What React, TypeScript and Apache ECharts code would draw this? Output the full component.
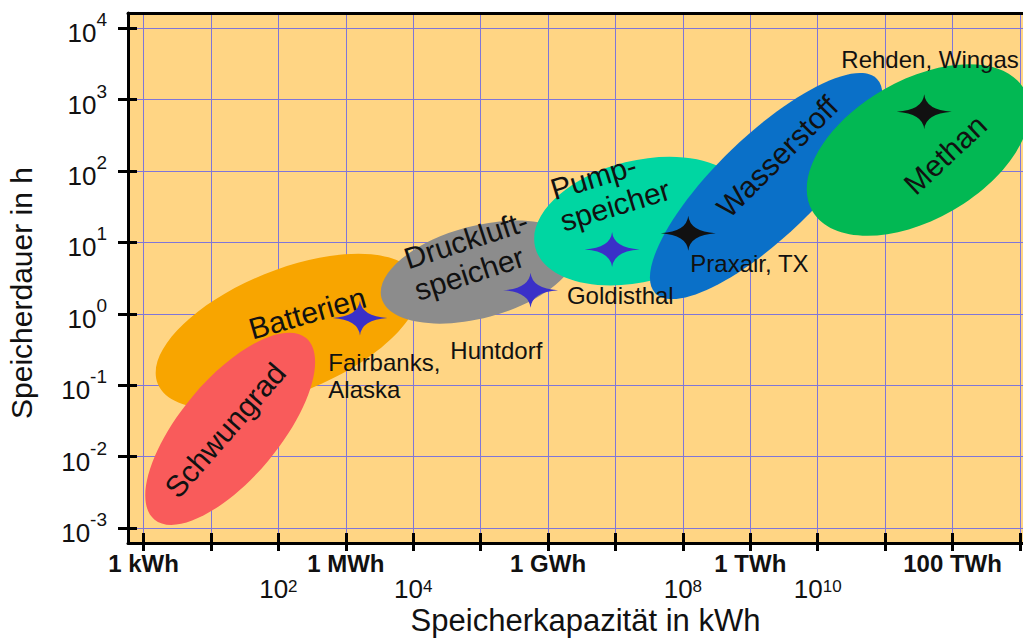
import React, { useEffect, useRef } from "react";
import * as echarts from "echarts";

const FONT = '"Liberation Sans", Arial, Helvetica, sans-serif';
const INK = "#111111";
const GRID_COLOR = "#7F76D9";

// ---- axes: values are decades (log10 of kWh / log10 of h) ----
const xMin = -0.231;
const xMax = 13.045;
const yMin = -3.21;
const yMax = 4.214;
const xTicks = [0, 1, 2, 3, 4, 5, 6, 7, 8, 9, 10, 11, 12, 13];
const yTicks = [-3, -2, -1, 0, 1, 2, 3, 4];
const xUnitTicks = [0, 3, 6, 9, 12];
const xUnitLabels = ["1 kWh", "1 MWh", "1 GWh", "1 TWh", "100 TWh"];
const xPowerTicks = [2, 4, 8, 10];
const yPowerTicks = [-3, -2, -1, 0, 1, 2, 3, 4];

// ---- storage technologies: major axis of each ellipse (from -> to) in decades ----
const techNames = ["Batterien", "Schwungrad", "Druckluftspeicher", "Pumpspeicher", "Wasserstoff", "Methan"];
const techCapFrom = [0.21, 0.16, 3.53, 5.81, 7.59, 9.92];
const techDurFrom = [-0.98, -2.88, 0.22, 0.93, 0.29, 1.44];
const techCapTo = [4.06, 2.41, 6.4, 8.92, 10.88, 13.06];
const techDurTo = [0.49, -0.34, 0.95, 1.67, 3.29, 3.15];
const techWidthRatio = [0.44, 0.42, 0.46, 0.56, 0.325, 0.57];
const techColors = ["#F8A500", "#F95B5B", "#8C8C8C", "#00D6A2", "#0A70C8", "#02B853"];

// ---- technology captions ----
const techLabelTexts = ["Batterien", "Schwungrad", "Druckluft-\nspeicher", "Pump-\nspeicher", "Wasserstoff", "Methan"];
const techLabelCap = [2.43, 1.21, 3.955, 6.12, 9.4, 11.89];
const techLabelDur = [0.01, -1.63, 0.54, 1.51, 2.2, 2.23];
const techLabelAngle = [16, 49, 18, 17, 45, 43];
const techLabelAlign = ["center", "center", "left", "left", "center", "center"];

// ---- example plants ----
const plantNames = ["Fairbanks,\nAlaska", "Huntdorf", "Goldisthal", "Praxair, TX", "Rehden, Wingas"];
const starCap = [3.21, 5.74, 6.95, 8.08, 11.58];
const starDur = [-0.06, 0.33, 0.9, 1.13, 2.83];
const starColors = ["#3A30C8", "#3A30C8", "#3A30C8", "#111111", "#111111"];
const plantLabelCap = [2.74, 4.55, 6.28, 8.11, 10.35];
const plantLabelDur = [-0.87, -0.51, 0.26, 0.71, 3.56];

const STAR = "path://M0,-17 Q1.6,-1.6 27,0 Q1.6,1.6 0,17 Q-1.6,1.6 -27,0 Q-1.6,-1.6 0,-17 Z";

function nearInt(v: number): number | null {
  const k = Math.round(v);
  return Math.abs(v - k) < 1e-6 ? k : null;
}

function xFormatter(v: number): string {
  const k = nearInt(v);
  if (k === null) return "";
  const ui = xUnitTicks.indexOf(k);
  if (ui >= 0) return `{b|${xUnitLabels[ui]}}`;
  if (xPowerTicks.indexOf(k) >= 0) return `{e| }\n{n|10}{s|${k}}`;
  return "";
}

function yFormatter(v: number): string {
  const k = nearInt(v);
  if (k === null || yPowerTicks.indexOf(k) < 0) return "";
  return `{p| }{n|10}{s|${k}}`;
}

export default function App() {
  const ref = useRef<HTMLDivElement>(null);

  useEffect(() => {
    if (!ref.current) return;
    const chart = echarts.init(ref.current, undefined, { renderer: "svg" });

    const blackLine = { color: "#000", width: 3 };

    const option: any = {
      animation: false,
      backgroundColor: "#ffffff",
      textStyle: { fontFamily: FONT },
      grid: {
        left: 128,
        top: 13,
        right: 0,
        bottom: 96,
        containLabel: false,
        outerBoundsMode: "none",
        show: true,
        backgroundColor: "#FFD584",
        borderWidth: 0,
      },
      xAxis: [
        {
          type: "value",
          min: xMin,
          max: xMax,
          minInterval: 1,
          maxInterval: 1,
          position: "bottom",
          axisLine: { show: true, onZero: false, lineStyle: blackLine },
          axisTick: { show: true, length: 8, lineStyle: blackLine, customValues: xTicks },
          splitLine: { show: true, lineStyle: { color: GRID_COLOR, width: 1 } },
          axisLabel: {
            margin: 8,
            customValues: xTicks,
            formatter: xFormatter,
            rich: {
              b: { fontSize: 24, fontWeight: "bold", fontFamily: FONT, color: INK, lineHeight: 25 },
              e: { fontSize: 10, fontFamily: FONT, color: INK, lineHeight: 27 },
              n: { fontSize: 26, fontFamily: FONT, color: INK, lineHeight: 24, verticalAlign: "bottom" },
              s: { fontSize: 17, fontFamily: FONT, color: INK, lineHeight: 10, verticalAlign: "top" },
            },
          },
          name: "Speicherkapazität in kWh",
          nameLocation: "middle",
          nameGap: 62,
          nameMoveOverlap: false,
          nameTextStyle: { fontSize: 31, fontFamily: FONT, color: INK, padding: [0, 0, 0, 20] },
        },
        {
          type: "value",
          min: xMin,
          max: xMax,
          minInterval: 1,
          maxInterval: 1,
          position: "bottom",
          axisLine: { show: false, onZero: false },
          axisTick: { show: true, inside: true, length: 10, lineStyle: blackLine, customValues: xTicks },
          axisLabel: { show: false },
          splitLine: { show: false },
        },
        {
          type: "value",
          min: xMin,
          max: xMax,
          position: "top",
          axisLine: { show: true, onZero: false, lineStyle: blackLine },
          axisTick: { show: false },
          axisLabel: { show: false },
          splitLine: { show: false },
        },
      ],
      yAxis: [
        {
          type: "value",
          min: yMin,
          max: yMax,
          minInterval: 1,
          maxInterval: 1,
          position: "left",
          axisLine: { show: true, onZero: false, lineStyle: blackLine },
          axisTick: { show: true, length: 10, lineStyle: blackLine, customValues: yTicks },
          splitLine: { show: true, lineStyle: { color: GRID_COLOR, width: 1 } },
          axisLabel: {
            margin: 21,
            customValues: yTicks,
            formatter: yFormatter,
            rich: {
              p: { fontSize: 1, lineHeight: 36 },
              n: { fontSize: 26, fontFamily: FONT, color: INK, lineHeight: 24, verticalAlign: "bottom" },
              s: { fontSize: 19, fontFamily: FONT, color: INK, lineHeight: 26, verticalAlign: "top" },
            },
          },
          name: "Speicherdauer in h",
          nameLocation: "middle",
          nameGap: 92,
          nameMoveOverlap: false,
          nameTextStyle: { fontSize: 30, fontFamily: FONT, color: INK, padding: [0, 30, 0, 0] },
        },
        {
          type: "value",
          min: yMin,
          max: yMax,
          minInterval: 1,
          maxInterval: 1,
          position: "left",
          axisLine: { show: false, onZero: false },
          axisTick: { show: true, inside: true, length: 9, lineStyle: blackLine, customValues: yTicks },
          axisLabel: { show: false },
          splitLine: { show: false },
        },
      ],
      series: [
        {
          name: "Technologien",
          type: "custom",
          xAxisIndex: 0,
          yAxisIndex: 0,
          clip: true,
          encode: { x: [0, 2], y: [1, 3] },
          data: techNames.map((_, i) => [techCapFrom[i], techDurFrom[i], techCapTo[i], techDurTo[i], techWidthRatio[i]]),
          renderItem: (params: any, api: any) => {
            const p1 = api.coord([api.value(0), api.value(1)]);
            const p2 = api.coord([api.value(2), api.value(3)]);
            const ratio = api.value(4);
            const dx = p2[0] - p1[0];
            const dy = p2[1] - p1[1];
            const a = Math.hypot(dx, dy) / 2;
            return {
              type: "ellipse",
              x: (p1[0] + p2[0]) / 2,
              y: (p1[1] + p2[1]) / 2,
              rotation: Math.atan2(-dy, dx),
              shape: { cx: 0, cy: 0, rx: a, ry: a * ratio },
              style: { fill: techColors[params.dataIndex] },
            };
          },
          z: 2,
        },
        {
          name: "Technologie-Beschriftung",
          type: "custom",
          xAxisIndex: 0,
          yAxisIndex: 0,
          clip: false,
          encode: { x: 0, y: 1 },
          data: techLabelTexts.map((_, i) => [techLabelCap[i], techLabelDur[i]]),
          renderItem: (params: any, api: any) => {
            const i = params.dataIndex;
            const p = api.coord([api.value(0), api.value(1)]);
            return {
              type: "text",
              x: p[0],
              y: p[1],
              rotation: (techLabelAngle[i] * Math.PI) / 180,
              style: {
                text: techLabelTexts[i],
                fontSize: 30,
                fontFamily: FONT,
                fill: INK,
                align: techLabelAlign[i],
                verticalAlign: "middle",
                lineHeight: 33,
              },
            };
          },
          z: 3,
        },
        {
          name: "Anlagen",
          type: "scatter",
          xAxisIndex: 0,
          yAxisIndex: 0,
          symbol: STAR,
          symbolSize: [55, 35],
          itemStyle: { opacity: 1 },
          data: starCap.map((c, i) => ({ value: [c, starDur[i]], itemStyle: { color: starColors[i], opacity: 1 } })),
          z: 4,
        },
        {
          name: "Anlagen-Beschriftung",
          type: "custom",
          xAxisIndex: 0,
          yAxisIndex: 0,
          clip: false,
          encode: { x: 0, y: 1 },
          data: plantNames.map((_, i) => [plantLabelCap[i], plantLabelDur[i]]),
          renderItem: (params: any, api: any) => {
            const i = params.dataIndex;
            const p = api.coord([api.value(0), api.value(1)]);
            return {
              type: "text",
              x: p[0],
              y: p[1],
              style: {
                text: plantNames[i],
                fontSize: 24,
                fontFamily: FONT,
                fill: INK,
                align: "left",
                verticalAlign: "middle",
                lineHeight: 27,
              },
            };
          },
          z: 5,
        },
      ],
    };

    chart.setOption(option);
    return () => {
      chart.dispose();
    };
  }, []);

  return (
    <div
      ref={ref}
      style={{ position: "fixed", left: 0, top: 0, width: 1023, height: 639, background: "#fff" }}
    />
  );
}
